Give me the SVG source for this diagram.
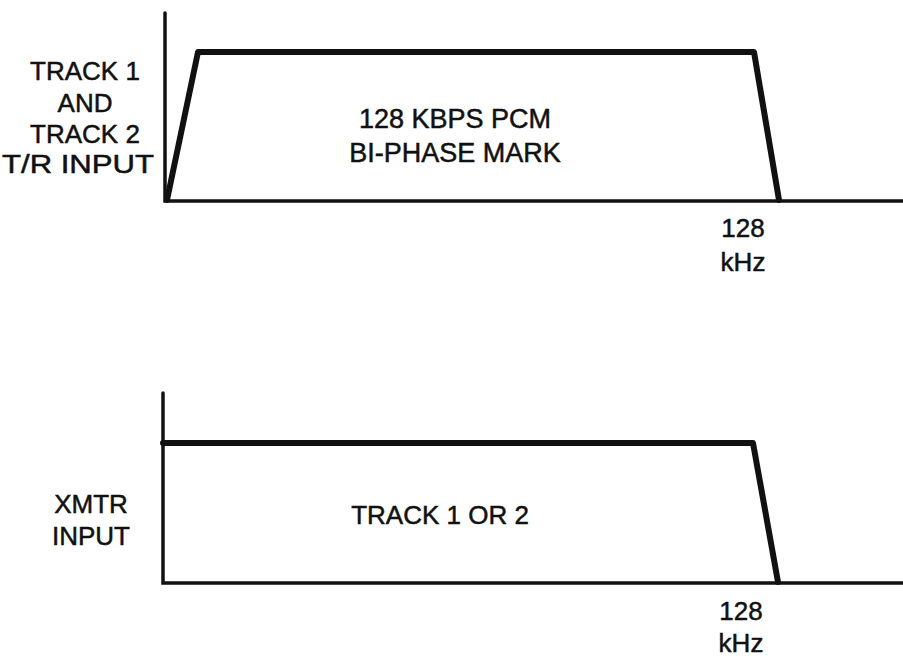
<svg xmlns="http://www.w3.org/2000/svg" width="903" height="658" viewBox="0 0 903 658">
<style>
text{font-family:"Liberation Sans","DejaVu Sans",sans-serif;font-size:26px;fill:#111;stroke:#111;stroke-width:0.5;text-anchor:middle}
.axis{fill:none;stroke:#111;stroke-width:3.5;stroke-linecap:round}
.curve{fill:none;stroke:#111;stroke-width:6;stroke-linejoin:round;stroke-linecap:round}
</style>
<rect width="903" height="658" fill="#fff"/>
<g id="top-chart">
  <path class="axis" d="M165,13 V201 H903"/>
  <path class="curve" d="M167,200 L198,52 H754 L779,200"/>
  <text x="85" y="80">TRACK 1</text>
  <text x="85" y="112">AND</text>
  <text x="85" y="143">TRACK 2</text>
  <text x="78" y="173" textLength="152" lengthAdjust="spacingAndGlyphs">T/R INPUT</text>
  <text x="455" y="128" style="font-size:27px">128 KBPS PCM</text>
  <text x="455" y="162" style="font-size:27px">BI-PHASE MARK</text>
  <text x="743" y="237">128</text>
  <text x="743" y="271">kHz</text>
</g>
<g id="bottom-chart">
  <path class="axis" d="M163,393 V583 H903"/>
  <path class="curve" d="M163,443 H753 L778,582"/>
  <text x="91" y="513">XMTR</text>
  <text x="91" y="545">INPUT</text>
  <text x="440" y="524">TRACK 1 OR 2</text>
  <text x="741" y="620">128</text>
  <text x="741" y="652">kHz</text>
</g>
</svg>
